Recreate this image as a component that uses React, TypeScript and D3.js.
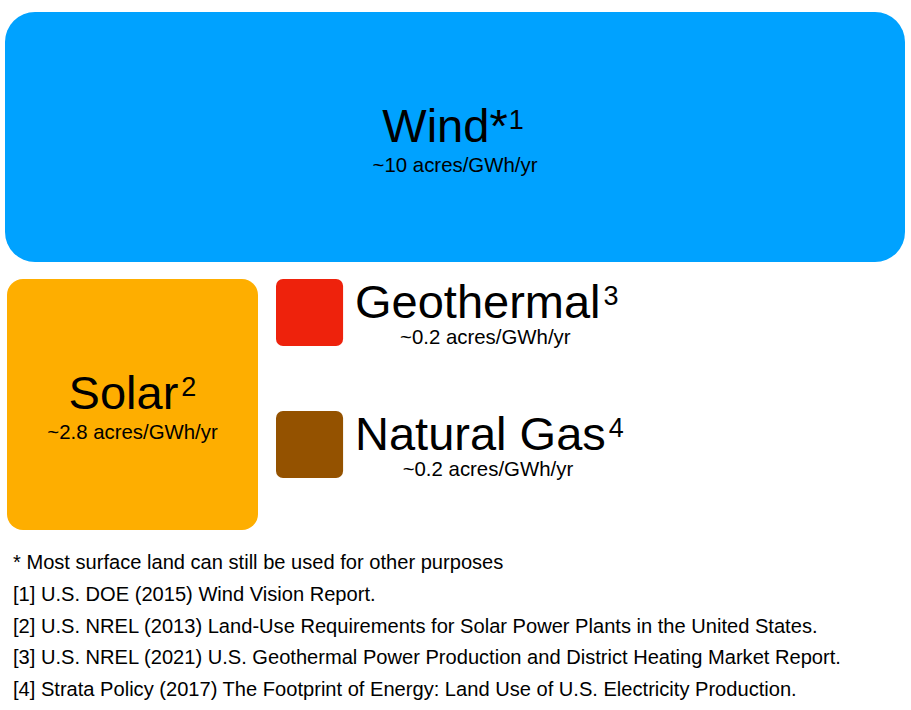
import React, { useEffect, useRef } from 'react';
import * as d3 from 'd3';

// land use per unit of energy, acres/GWh/yr
const sources = ['Wind', 'Solar', 'Geothermal', 'Natural Gas'];
const acres = [10, 2.8, 0.2, 0.2];
const prefixMarks = ['*', '', '', ''];
const refMarks = ['1', '2', '3', '4'];
const valueLabels = ['~10 acres/GWh/yr', '~2.8 acres/GWh/yr', '~0.2 acres/GWh/yr', '~0.2 acres/GWh/yr'];
const colors = ['#00A2FF', '#FEAE00', '#EE220C', '#945200'];
const footnotes = [
    '* Most surface land can still be used for other purposes',
    '[1] U.S. DOE (2015) Wind Vision Report.',
    '[2] U.S. NREL (2013) Land-Use Requirements for Solar Power Plants in the United States.',
    '[3] U.S. NREL (2021) U.S. Geothermal Power Production and District Heating Market Report.',
    '[4] Strata Policy (2017) The Footprint of Energy: Land Use of U.S. Electricity Production.'
];

const FONT = "'Liberation Sans', Arial, Helvetica, sans-serif";

export default function App() {
    const ref = useRef<SVGSVGElement | null>(null);

    useEffect(() => {
        if (!ref.current) return;
        const svg = d3.select(ref.current);
        svg.selectAll('*').remove();

        const rowH = 250;
        // value -> area in px^2 (wind fills the full width at row height)
        const area = d3.scaleLinear().domain([0, 10]).range([0, 900 * rowH]);

        const data = sources.map((name, i) => ({
            name, value: acres[i], pre: prefixMarks[i], sup: refMarks[i],
            label: valueLabels[i], color: colors[i]
        }));

        const addLabel = (g: any, d: any, x: number, y: number, anchor: string) => {
            const t = g.append('text')
                .attr('x', x).attr('y', y)
                .attr('text-anchor', anchor)
                .style('font-family', FONT)
                .style('font-size', '47px')
                .style('fill', '#000');
            t.append('tspan').text(d.name + d.pre);
            t.append('tspan').attr('dx', d.pre ? 1 : 3).attr('dy', -13)
                .style('font-size', '27px').text(d.sup);
            return t;
        };

        const addValue = (g: any, d: any, x: number, y: number) => {
            g.append('text').attr('x', x).attr('y', y)
                .attr('text-anchor', 'middle')
                .style('font-family', FONT).style('font-size', '20.4px').style('fill', '#000')
                .text(d.label);
        };

        // wind: full-width rectangle
        const wind = data[0];
        const wW = 900, wH = area(wind.value) / wW;
        const wx = 5, wy = 12;
        const gw = svg.append('g');
        gw.append('rect').attr('x', wx).attr('y', wy).attr('width', wW).attr('height', wH)
            .attr('rx', 30).attr('fill', wind.color);
        addLabel(gw, wind, wx + wW / 2 - 2, wy + wH / 2 + 5, 'middle');
        addValue(gw, wind, wx + wW / 2, wy + wH / 2 + 35);

        // solar: square
        const rowTop = 279;
        const solar = data[1];
        const sS = Math.sqrt(area(solar.value));
        const sx = 7;
        const gs = svg.append('g');
        gs.append('rect').attr('x', sx).attr('y', rowTop).attr('width', sS).attr('height', sS)
            .attr('rx', 16).attr('fill', solar.color);
        addLabel(gs, solar, sx + sS / 2, rowTop + sS / 2 + 5, 'middle');
        addValue(gs, solar, sx + sS / 2, rowTop + sS / 2 + 35);

        // small squares with labels to the right
        const smallX = 276;
        const smallTops = [rowTop, 411];
        data.slice(2).forEach((d, i) => {
            const side = Math.sqrt(area(d.value));
            const top = smallTops[i];
            const g = svg.append('g');
            g.append('rect').attr('x', smallX).attr('y', top).attr('width', side).attr('height', side)
                .attr('rx', 7).attr('fill', d.color);
            const lx = 355;
            const t = addLabel(g, d, lx, top + 39, 'start');
            const full = (t.node() as SVGTextElement).getComputedTextLength() || 260;
            addValue(g, d, lx + full / 2, top + 65);
        });

        // footnotes
        const fy = d3.scaleLinear().domain([0, footnotes.length - 1]).range([569, 696]);
        svg.append('g').selectAll('text').data(footnotes).enter().append('text')
            .attr('x', 13).attr('y', (_, i) => fy(i))
            .style('font-family', FONT).style('font-size', '20.1px').style('fill', '#000')
            .text(d => d);
    }, []);

    return (
        <div style={{ position: 'absolute', left: 0, top: 0, width: 911, height: 710, background: '#fff' }}>
            <svg ref={ref} width={911} height={710} style={{ display: 'block' }} />
        </div>
    );
}
